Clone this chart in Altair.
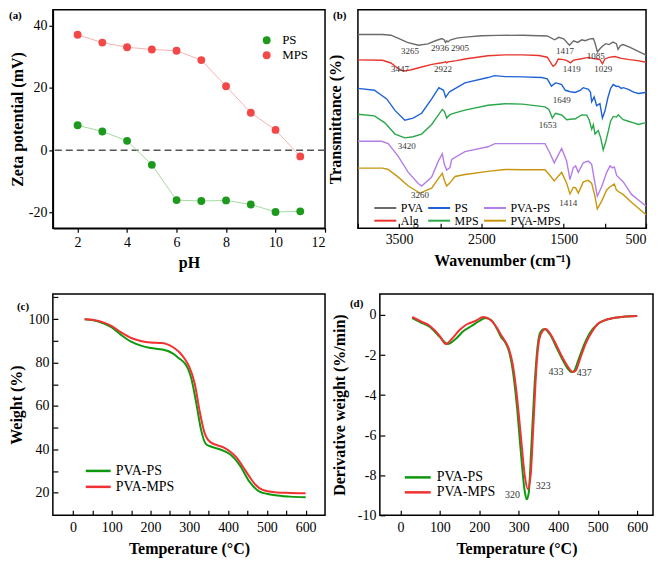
import altair as alt
import pandas as pd

FONT = "Liberation Serif"
MINUS = "replace(datum.label, '\u2212', '-')"
LINE_SYMBOL = "M-2,0H2"

# ---------------- (a) zeta potential ----------------
ph = [2, 3, 4, 5, 6, 7, 8, 9, 10, 11]
zeta_ps = [8.0, 6.0, 3.0, -4.7, -16.0, -16.3, -16.1, -17.4, -19.8, -19.6]
zeta_mps = [37.0, 34.5, 33.0, 32.3, 31.9, 28.9, 20.5, 12.0, 6.5, -2.0]

# ---------------- (b) FTIR (offset transmittance, a.u.) ----------------
pva_wn = [4000, 3700, 3600, 3500, 3400, 3265, 3150, 3050, 2980, 2950, 2936, 2920, 2905, 2880, 2800, 2700, 2500, 2300, 2000, 1800, 1700, 1610, 1560, 1500, 1430, 1380, 1330, 1280, 1240, 1180, 1140, 1120, 1090, 1060, 1030, 990, 950, 900, 860, 840, 810, 780, 700, 600, 500]
pva_t = [202.3, 202.3, 201.5, 198, 194, 191, 192.5, 196, 198, 196.5, 194, 195.5, 194.5, 196.5, 198.5, 199.5, 201, 201.3, 201.5, 201, 200.7, 196.7, 199.3, 197.7, 191, 195.7, 194, 196.7, 195.7, 197.7, 198, 193.3, 184, 187.3, 190, 192.7, 191.7, 194.3, 192.7, 186.7, 190.7, 191.7, 189, 185, 180.7]

alg_wn = [4000, 3700, 3600, 3500, 3447, 3350, 3226, 3100, 2980, 2935, 2922, 2905, 2800, 2700, 2420, 2214, 2000, 1800, 1700, 1630, 1600, 1566, 1500, 1460, 1419, 1380, 1300, 1200, 1150, 1100, 1060, 1029, 1000, 950, 880, 800, 700, 600, 500]
alg_t = [175.7, 175.3, 172.5, 166, 164, 165.5, 168.3, 171, 172.7, 173.8, 172.7, 173.7, 175, 176.7, 180, 181, 181, 180.3, 178.5, 169, 171, 176.7, 176, 175, 172.7, 175.5, 176.7, 178.3, 177.3, 176.7, 176, 171.7, 176.7, 178.3, 179.3, 177.3, 176, 175, 173.3]

ps_wn = [4000, 3800, 3650, 3550, 3430, 3330, 3226, 3104, 3016, 2960, 2934, 2900, 2882, 2700, 2420, 2340, 2214, 2000, 1768, 1700, 1649, 1600, 1560, 1525, 1480, 1420, 1363, 1300, 1262, 1200, 1175, 1160, 1130, 1100, 1060, 1030, 1000, 962, 930, 898, 860, 837, 800, 776, 715, 650, 594, 513, 500]
ps_t = [146, 144, 135, 123, 112.7, 115, 120, 135, 146.7, 144, 136.7, 141, 142.7, 151.7, 157.3, 159.3, 158.3, 158, 157.3, 156, 148.3, 151.7, 151, 150, 144, 142.5, 141.7, 144, 146.7, 145, 142, 132, 137, 128, 130, 115, 122, 136.7, 146, 150, 148, 148.3, 146, 146.7, 145, 142, 140.7, 141.7, 143]

mps_wn = [4000, 3800, 3672, 3550, 3429, 3330, 3226, 3104, 2975, 2950, 2922, 2890, 2861, 2700, 2420, 2214, 2000, 1800, 1727, 1680, 1638, 1600, 1560, 1520, 1464, 1400, 1363, 1282, 1220, 1190, 1160, 1140, 1120, 1080, 1050, 1020, 990, 962, 930, 898, 860, 837, 800, 776, 715, 650, 594, 513, 500]
mps_t = [119, 117.3, 110, 98.3, 94.3, 95.5, 98.3, 108.3, 124, 122, 115, 118, 119.3, 123.3, 128.3, 130, 129.5, 127.5, 126.7, 124, 115, 120, 119, 118, 113.3, 114, 114, 118.3, 118, 113, 103.3, 108, 98.3, 102, 94, 81.7, 90, 100, 112, 116.7, 116, 118.3, 115, 113.3, 111.7, 110, 108.3, 110, 110]

pvaps_wn = [4000, 3712, 3632, 3510, 3388, 3267, 3226, 3104, 3023, 2975, 2950, 2922, 2882, 2861, 2700, 2420, 2335, 2000, 1727, 1667, 1615, 1525, 1464, 1424, 1383, 1355, 1323, 1262, 1201, 1160, 1120, 1092, 1039, 978, 937, 910, 885, 857, 776, 674, 513, 500]
pvaps_t = [90.7, 90.7, 88.3, 75, 58.3, 46.7, 44, 53.3, 70, 77.7, 66.7, 60.7, 63.3, 71.7, 80, 85, 88.3, 88.3, 88.3, 78.3, 68.3, 83.3, 70, 50.7, 63.3, 65, 58.3, 68.3, 70, 66.7, 46.7, 33.3, 43.3, 58.3, 65, 63, 64, 55, 48.3, 35, 24, 23.5]

pvamps_wn = [4000, 3700, 3632, 3510, 3388, 3247, 3104, 3023, 2975, 2950, 2922, 2882, 2820, 2700, 2420, 2214, 2000, 1727, 1667, 1615, 1525, 1464, 1424, 1383, 1355, 1323, 1262, 1201, 1160, 1120, 1092, 1039, 978, 937, 885, 860, 837, 776, 674, 513, 500]
pvamps_t = [62.7, 62.7, 61.3, 53.3, 44, 36.7, 41.7, 51.7, 57.3, 50, 44, 47.3, 54, 56, 59.3, 61.3, 61, 61, 55, 49.3, 58.3, 47, 35.7, 42.7, 42, 36.7, 48.3, 50, 46.7, 33.3, 20, 28.3, 40, 43.3, 46, 40, 38.3, 35, 26.7, 15, 14]

ftir_label_text = ["3265", "2936", "2905", "3447", "2922", "1417", "1085", "1419", "1029", "1649", "1653", "3420", "3260", "1414"]
ftir_label_wn = [3368, 3004, 2760, 3490, 2967, 1485, 1111, 1403, 1019, 1525, 1695, 3408, 3247, 1444]
ftir_label_t = [185, 188.3, 188.3, 166, 166, 185, 179.3, 166, 166, 134.3, 107.7, 86, 34.5, 26]

# ---------------- (c) TGA ----------------
tga_ps_temp = [30, 50, 80, 100, 125, 150, 175, 200, 231, 245, 256, 275, 289, 297, 305, 318, 330, 343, 355, 372, 390, 405, 430, 455, 480, 500, 521, 560, 600]
tga_ps_wt = [100, 99.6, 98, 96.2, 92.6, 89.6, 87.8, 86.7, 86, 85.3, 84.3, 81.7, 79.5, 77, 72.8, 61.2, 49.2, 42.4, 41.3, 40.4, 39.2, 37.7, 32.7, 25.1, 20.6, 19.5, 18.8, 18.2, 17.9]
tga_mps_temp = [30, 50, 80, 100, 125, 150, 175, 200, 225, 240, 260, 275, 290, 300, 314, 326, 339, 355, 388, 405, 421, 440, 455, 470, 488, 520, 560, 600]
tga_mps_wt = [100, 99.7, 98.4, 96.8, 93.8, 91.3, 89.9, 89.2, 89, 88.6, 86.8, 84.6, 81.2, 78, 70.2, 58.2, 47.7, 43.2, 40.9, 39, 36.4, 31.5, 27.4, 23.8, 21.4, 20.2, 19.9, 19.7]

# ---------------- (d) DTG ----------------
dtg_ps_temp = [30, 50, 75, 100, 120, 140, 160, 180, 200, 215, 230, 245, 255, 265, 275, 285, 295, 305, 315, 320, 325, 332, 340, 348, 355, 365, 380, 395, 410, 425, 433, 440, 450, 465, 480, 500, 520, 550, 600]
dtg_ps_val = [-0.15, -0.35, -0.6, -1.1, -1.45, -1.2, -0.8, -0.55, -0.3, -0.15, -0.25, -0.7, -1.1, -1.35, -1.8, -2.8, -4.5, -6.8, -8.8, -9.2, -8.9, -6.5, -3.5, -1.5, -0.85, -0.7, -1.0, -1.6, -2.2, -2.7, -2.85, -2.8, -2.3, -1.5, -0.9, -0.45, -0.25, -0.12, -0.05]
dtg_mps_temp = [30, 50, 75, 100, 115, 130, 150, 170, 190, 210, 225, 245, 255, 265, 275, 285, 295, 305, 315, 323, 330, 337, 345, 352, 360, 368, 380, 395, 410, 425, 437, 445, 455, 470, 485, 500, 520, 550, 600]
dtg_mps_val = [-0.1, -0.3, -0.55, -1.05, -1.45, -1.2, -0.75, -0.45, -0.3, -0.1, -0.2, -0.65, -1.0, -1.3, -1.7, -2.5, -4.0, -6.0, -8.0, -8.7, -8.0, -5.5, -2.5, -1.2, -0.8, -0.7, -0.95, -1.5, -2.1, -2.6, -2.85, -2.75, -2.2, -1.4, -0.85, -0.45, -0.25, -0.12, -0.05]

dtg_label_text = ["320", "323", "433", "437"]
dtg_label_temp = [284, 362, 394, 466]
dtg_label_val = [-9.0, -8.55, -2.86, -2.89]


def ax(**kw):
    base = dict(labelFont=FONT, labelFontSize=14, titleFont=FONT, titleFontSize=16,
                titleFontWeight="bold", grid=False, labelColor="black", titleColor="black",
                tickColor="black", domainColor="black", tickWidth=1.2)
    base.update(kw)
    return alt.Axis(**base)


def panel_label(text, dx, dy):
    return alt.Chart(pd.DataFrame({"t": [text]})).mark_text(
        font=FONT, fontSize=11, fontWeight="bold", align="left", baseline="top", color="black"
    ).encode(text="t:N", x=alt.value(dx), y=alt.value(dy))


H1 = 219
H2 = 222

# ---------- panel a ----------
df_a = pd.DataFrame({
    "pH": ph + ph,
    "zeta": zeta_ps + zeta_mps,
    "sample": ["PS"] * len(ph) + ["MPS"] * len(ph),
})
df_a["lc"] = df_a["sample"].map({"PS": "#a6d99f", "MPS": "#f6b2b2"})
xa = alt.X("pH:Q", scale=alt.Scale(domain=[1, 12], nice=False),
           axis=ax(values=[2, 4, 6, 8, 10, 12], title="pH", tickSize=4, labelPadding=3,
                   titlePadding=5, domainWidth=1.5))
ya = alt.Y("zeta:Q", scale=alt.Scale(domain=[-25, 45], nice=False, zero=False),
           axis=ax(values=[-20, -10, 0, 10, 20, 30, 40], title="Zeta potential (mV)", tickSize=4,
                   labelPadding=2, titlePadding=3, labelExpr=MINUS, domainWidth=1.5))
zero_a = alt.Chart(pd.DataFrame({"zeta": [0]})).mark_rule(
    color="#555555", strokeDash=[7, 4], strokeWidth=1.5).encode(y=alt.Y("zeta:Q"))
line_a = alt.Chart(df_a).mark_line(strokeWidth=1).encode(
    x=xa, y=ya, detail="sample:N", color=alt.Color("lc:N", scale=None))
pts_a = alt.Chart(df_a).mark_circle(size=62, opacity=1).encode(
    x=xa, y=ya,
    color=alt.Color("sample:N", scale=alt.Scale(domain=["PS", "MPS"], range=["#1d9a1d", "#f24848"]),
                    legend=alt.Legend(orient="none", legendX=208, legendY=24, title=None,
                                      labelFont=FONT, labelFontSize=13, symbolType="circle",
                                      symbolSize=62, rowPadding=1, labelOffset=9)))
panel_a = alt.layer(zero_a, line_a, pts_a, panel_label("(a)", -44, 0)).properties(width=273, height=H1)

# ---------- panel b ----------
rows = []
for name, wn, tt in [("PVA", pva_wn, pva_t), ("Alg", alg_wn, alg_t), ("PS", ps_wn, ps_t),
                     ("MPS", mps_wn, mps_t), ("PVA-PS", pvaps_wn, pvaps_t),
                     ("PVA-MPS", pvamps_wn, pvamps_t)]:
    rows += [{"wn": w, "T": v, "sample": name} for w, v in zip(wn, tt)]
df_b = pd.DataFrame(rows)
xb = alt.X("wn:Q", scale=alt.Scale(domain=[500, 4000], reverse=True, nice=False),
           axis=ax(values=list(range(500, 4001, 250)), format="d",
                   labelExpr="datum.value % 500 === 0 ? datum.label : ''", labelFlush=True,
                   title="Wavenumber (cm\u207b\u00b9)", offset=-5, tickSize=5, domain=False,
                   labelPadding=4, titlePadding=6))
yb = alt.Y("T:Q", scale=alt.Scale(domain=[0, 228], nice=False, zero=False),
           axis=ax(title="Transmittance (%)", labels=False, ticks=False, domain=False, titlePadding=14))
line_b = alt.Chart(df_b).mark_line(strokeWidth=1.4).encode(
    x=xb, y=yb,
    color=alt.Color("sample:N",
                    scale=alt.Scale(domain=["PVA", "Alg", "PS", "MPS", "PVA-PS", "PVA-MPS"],
                                    range=["#6b6b6b", "#e8342c", "#1f62d6", "#2aa84a", "#b47ee6", "#c8960e"]),
                    legend=alt.Legend(orient="none", legendX=21, legendY=192, title=None, columns=3,
                                      labelFont=FONT, labelFontSize=12, symbolType=LINE_SYMBOL,
                                      symbolSize=121, symbolStrokeWidth=2, rowPadding=0,
                                      columnPadding=0, labelOffset=9)))
df_bl = pd.DataFrame({"wn": ftir_label_wn, "T": ftir_label_t, "lab": ftir_label_text})
text_b = alt.Chart(df_bl).mark_text(font=FONT, fontSize=9, color="#333333", baseline="middle").encode(
    x="wn:Q", y="T:Q", text="lab:N")
panel_b = alt.layer(line_b, text_b, panel_label("(b)", -25, 0)).properties(width=289, height=H1)

# ---------- panel c ----------
df_c = pd.DataFrame({
    "temp": tga_ps_temp + tga_mps_temp,
    "wt": tga_ps_wt + tga_mps_wt,
    "sample": ["PVA-PS"] * len(tga_ps_temp) + ["PVA-MPS"] * len(tga_mps_temp),
})
xc = alt.X("temp:Q", scale=alt.Scale(domain=[-52, 650], nice=False),
           axis=ax(values=list(range(0, 601, 50)), labelExpr="datum.value % 100 === 0 ? datum.label : ''",
                   title="Temperature (\u00b0C)", offset=-5, tickSize=5, domain=False,
                   labelPadding=5, titlePadding=6))
yc = alt.Y("wt:Q", scale=alt.Scale(domain=[9.6, 111.6], nice=False, zero=False),
           axis=ax(values=list(range(20, 111, 10)), labelExpr="datum.value % 20 === 0 ? datum.label : ''",
                   title="Weight (%)", offset=-5, tickSize=5, domain=False, labelPadding=4, titlePadding=3))
line_c = alt.Chart(df_c).mark_line(strokeWidth=2, interpolate="monotone").encode(
    x=xc, y=yc,
    color=alt.Color("sample:N", scale=alt.Scale(domain=["PVA-PS", "PVA-MPS"], range=["#0e980e", "#f23232"]),
                    sort=["PVA-PS", "PVA-MPS"],
                    legend=alt.Legend(orient="none", legendX=38, legendY=170, title=None,
                                      labelFont=FONT, labelFontSize=14, symbolType=LINE_SYMBOL,
                                      symbolSize=156, symbolStrokeWidth=2.5, rowPadding=1, labelOffset=10)))
panel_c = alt.layer(line_c, panel_label("(c)", -36, 7)).properties(width=273, height=H2)

# ---------- panel d ----------
df_d = pd.DataFrame({
    "temp": dtg_ps_temp + dtg_mps_temp,
    "dw": dtg_ps_val + dtg_mps_val,
    "sample": ["PVA-PS"] * len(dtg_ps_temp) + ["PVA-MPS"] * len(dtg_mps_temp),
})
xd = alt.X("temp:Q", scale=alt.Scale(domain=[-52, 640], nice=False),
           axis=ax(values=list(range(0, 601, 50)), labelExpr="datum.value % 100 === 0 ? datum.label : ''",
                   title="Temperature (\u00b0C)", offset=-5, tickSize=5, domain=False,
                   labelPadding=5, titlePadding=6))
yd = alt.Y("dw:Q", scale=alt.Scale(domain=[-10, 1.05], nice=False, zero=False),
           axis=ax(values=list(range(-10, 1)), labelExpr="datum.value % 2 === 0 ? " + MINUS + " : ''",
                   title="Derivative weight (%/min)", offset=-5, tickSize=5, domain=False,
                   labelPadding=4, titlePadding=10))
line_d = alt.Chart(df_d).mark_line(strokeWidth=2, interpolate="monotone").encode(
    x=xd, y=yd,
    color=alt.Color("sample:N", scale=alt.Scale(domain=["PVA-PS", "PVA-MPS"], range=["#0e980e", "#f23232"]),
                    sort=["PVA-PS", "PVA-MPS"],
                    legend=alt.Legend(orient="none", legendX=30, legendY=176, title=None,
                                      labelFont=FONT, labelFontSize=14, symbolType=LINE_SYMBOL,
                                      symbolSize=169, symbolStrokeWidth=2.5, rowPadding=0, labelOffset=11)))
df_dl = pd.DataFrame({"temp": dtg_label_temp, "dw": dtg_label_val, "lab": dtg_label_text})
text_d = alt.Chart(df_dl).mark_text(font=FONT, fontSize=10, color="#333333", baseline="middle").encode(
    x="temp:Q", y="dw:Q", text="lab:N")
panel_d = alt.layer(line_d, text_d, panel_label("(d)", -30, 4)).properties(width=274, height=H2)

row1 = alt.hconcat(panel_a, panel_b, spacing=0).resolve_scale(color="independent")
row2 = alt.hconcat(panel_c, panel_d, spacing=4).resolve_scale(color="independent")
chart = alt.vconcat(row1, row2, spacing=22, padding=0).resolve_scale(color="independent").configure_view(
    stroke="black", strokeWidth=1.5
)

chart.save("out.html", embed_options={"renderer": "svg", "actions": False})
